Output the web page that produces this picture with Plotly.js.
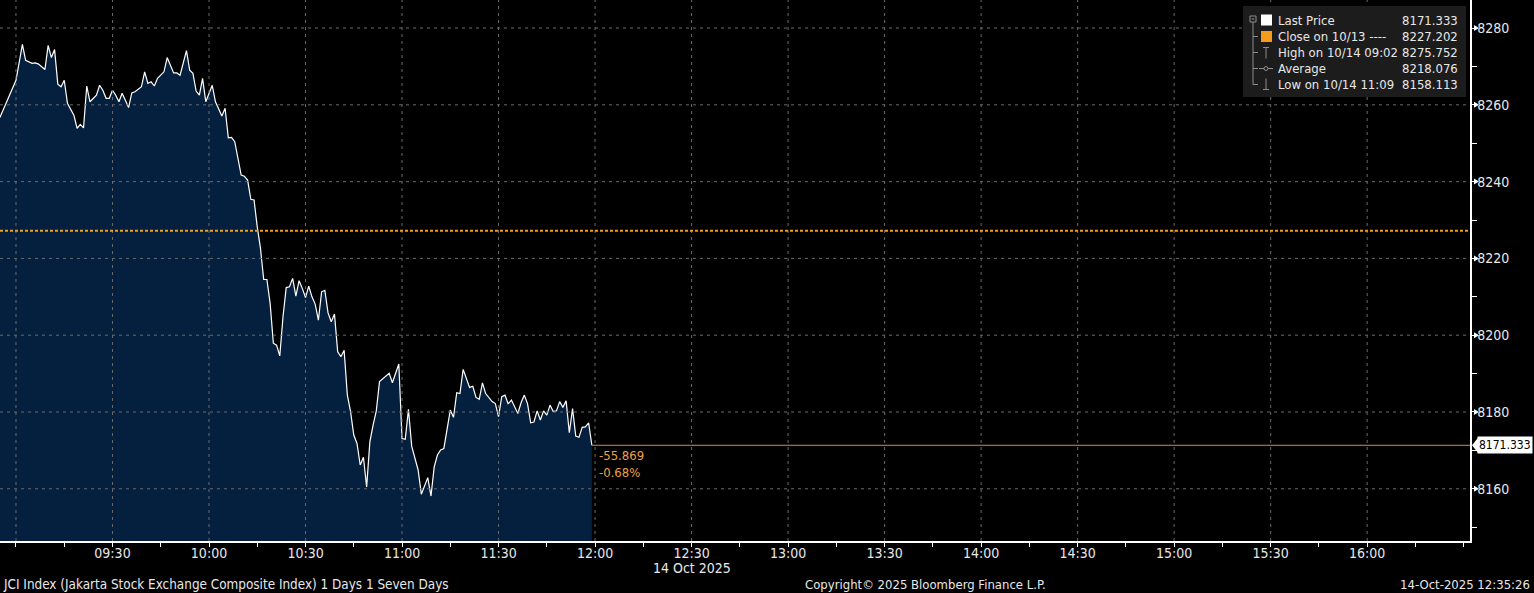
<!DOCTYPE html>
<html><head><meta charset="utf-8">
<script src="https://cdn.plot.ly/plotly-3.0.1.min.js"></script>
<style>html,body{margin:0;padding:0;background:#000;overflow:hidden}</style>
</head><body><div id="chart" style="width:1534px;height:593px"></div>
<script>
const DATE = '2025-10-14';
const TIMES = ['08:55','09:00','09:02','09:03','09:05','09:06','09:07','09:09','09:10','09:11','09:12','09:13','09:14','09:15','09:16','09:18','09:19','09:20','09:21','09:22','09:23','09:25','09:26','09:27','09:28','09:29','09:30','09:31','09:32','09:33','09:34','09:35','09:36','09:37','09:39','09:40','09:41','09:42','09:43','09:44','09:46','09:47','09:49','09:50','09:51','09:53','09:54','09:55','09:56','09:57','09:58','09:59','10:01','10:02','10:04','10:05','10:06','10:07','10:08','10:10','10:11','10:12','10:13','10:14','10:15','10:16','10:17','10:18','10:19','10:20','10:21','10:22','10:23','10:24','10:25','10:26','10:27','10:28','10:29','10:30','10:31','10:32','10:33','10:34','10:35','10:36','10:37','10:38','10:39','10:40','10:41','10:42','10:43','10:44','10:45','10:46','10:47','10:48','10:49','10:50','10:51','10:52','10:53','10:55','10:56','10:57','10:59','11:00','11:01','11:02','11:03','11:05','11:06','11:08','11:09','11:10','11:11','11:12','11:13','11:15','11:16','11:17','11:18','11:19','11:21','11:22','11:23','11:24','11:25','11:26','11:28','11:29','11:30','11:31','11:32','11:33','11:34','11:36','11:37','11:38','11:39','11:40','11:41','11:42','11:43','11:44','11:45','11:46','11:47','11:48','11:49','11:50','11:51','11:52','11:53','11:54','11:55','11:56','11:57','11:58','11:59'];
const PRICES = [8256.7,8266.4,8275.752,8271.6,8270.8,8270.9,8270.6,8269.2,8275.5,8272.3,8274.4,8265.4,8264.7,8266.4,8260.4,8257.3,8253.9,8254.9,8254.0,8264.9,8260.8,8262.5,8265.1,8263.8,8261.7,8261.7,8263.8,8262.5,8260.8,8263.0,8261.2,8259.3,8263.1,8263.4,8264.7,8268.6,8265.6,8266.0,8264.9,8266.9,8268.6,8272.3,8268.3,8268.3,8267.7,8274.1,8269.0,8268.2,8263.6,8262.5,8266.9,8260.8,8265.1,8260.8,8257.1,8259.1,8251.4,8251.5,8250.4,8241.7,8241.4,8240.4,8235.4,8235.2,8228.2,8222.6,8214.5,8214.5,8208.3,8197.9,8197.4,8194.6,8204.8,8212.4,8212.6,8214.8,8210.2,8214.2,8212.2,8209.8,8212.8,8210.0,8208.1,8203.9,8211.3,8211.7,8205.8,8203.5,8205.5,8195.7,8194.4,8196.1,8184.4,8180.1,8174.0,8171.8,8166.2,8168.2,8160.5,8172.2,8176.6,8180.3,8187.9,8189.3,8190.1,8187.6,8192.5,8173.1,8172.9,8180.7,8171.1,8164.9,8158.6,8162.9,8158.113,8165.7,8168.8,8170.1,8170.5,8180.5,8178.6,8185.0,8184.8,8191.1,8186.4,8186.7,8183.8,8183.3,8187.6,8184.8,8182.7,8182.2,8178.8,8184.0,8184.4,8182.1,8183.1,8179.6,8182.4,8184.4,8182.2,8177.2,8177.4,8180.3,8177.9,8180.3,8179.2,8181.8,8180.1,8180.3,8182.7,8181.2,8182.9,8174.6,8180.9,8173.7,8173.4,8176.0,8176.1,8177.2,8171.333];
const PREV_CLOSE = 8227.202;
const X_TICK_VALUES = ['09:00','09:30','10:00','10:30','11:00','11:30','12:00','12:30','13:00','13:30','14:00','14:30','15:00','15:30','16:00'];
const X_TICK_LABELS = ['','09:30','10:00','10:30','11:00','11:30','12:00','12:30','13:00','13:30','14:00','14:30','15:00','15:30','16:00'];
const DATE_LABEL = {at: '12:30', text: '14 Oct 2025'};
const Y_TICKS = [8160,8180,8200,8220,8240,8260,8280];
const LEGEND_LABELS = ['Last Price','Close on 10/13 ----','High on 10/14 09:02','Average','Low on 10/14 11:09'];
const LEGEND_VALUES = ['8171.333','8227.202','8275.752','8218.076','8158.113'];
const FOOTER_LEFT = 'JCI Index (Jakarta Stock Exchange Composite Index) 1 Days 1 Seven Days';
const FOOTER_MID = 'Copyright\u00a9 2025 Bloomberg Finance L.P.';
const FOOTER_RIGHT = '14-Oct-2025 12:35:26';

// ---- layout helpers ----
const W = 1534, H = 593, ML = 0, MR = 64, MT = 0, MB = 52;
const PW = W - ML - MR, PH = H - MT - MB;
const px = x => (x - ML) / PW;
const py = y => 1 - (y - MT) / PH;
const FONT = 'DejaVu Sans Condensed, DejaVu Sans, sans-serif';
const TXT = '#e8e8e8';
const GRID = '#6a6a6a';
const ORANGE = '#f59c1a';

const xs = TIMES.map(t => DATE + ' ' + t);
const X_RANGE = [DATE + ' 08:55:02', DATE + ' 16:31:58'];
const Y_RANGE = [8146.4, 8287.3];
const last = PRICES[PRICES.length - 1];
const lastX = xs[xs.length - 1];
const chg = last - PREV_CLOSE;
const chgPct = chg / PREV_CLOSE * 100;

const trace = {
  x: xs, y: PRICES, type: 'scatter', mode: 'lines',
  fill: 'tozeroy', fillcolor: '#04203e',
  line: {color: '#ffffff', width: 1.2},
  hoverinfo: 'skip', showlegend: false
};

const shapes = [];
X_TICK_VALUES.forEach(t => shapes.push({type: 'line', xref: 'x', yref: 'paper', x0: DATE + ' ' + t, x1: DATE + ' ' + t, y0: 0, y1: 1, line: {color: GRID, width: 1, dash: '3px,4px'}, layer: 'above'}));
Y_TICKS.forEach(v => shapes.push({type: 'line', xref: 'paper', yref: 'y', x0: 0, x1: 1, y0: v, y1: v, line: {color: GRID, width: 1, dash: '3px,4px'}, layer: 'above'}));
shapes.push({type: 'line', xref: 'paper', yref: 'y', x0: 0, x1: 1, y0: PREV_CLOSE, y1: PREV_CLOSE, line: {color: ORANGE, width: 2, dash: '3px,2px'}, layer: 'above'});
shapes.push({type: 'line', xref: 'x', yref: 'y', x0: lastX, x1: X_RANGE[1], y0: last, y1: last, line: {color: '#d98a4a', width: 1}, layer: 'above'});
Y_TICKS.forEach(v => shapes.push({type: 'path', xref: 'paper', yref: 'y', xsizemode: 'pixel', ysizemode: 'pixel', xanchor: 1, yanchor: v, path: 'M 4,-3 L 9,0 L 4,3 Z', fillcolor: '#ffffff', line: {width: 0}, layer: 'above'}));
shapes.push({type: 'path', xref: 'paper', yref: 'y', xsizemode: 'pixel', ysizemode: 'pixel', xanchor: 1, yanchor: last, path: 'M 2,0 L 8,-7.5 L 8,7.5 Z', fillcolor: '#ffffff', line: {width: 0}, layer: 'above'});
shapes.push({type: 'rect', xref: 'paper', yref: 'paper', x0: px(1243), x1: px(1466), y0: py(97), y1: py(6), fillcolor: '#1c1c1c', line: {width: 0}, layer: 'above'});
const rowY = [20, 36.5, 52.5, 68.5, 84.5];
const TREE = '#8c8c8c';
shapes.push({type: 'rect', xref: 'paper', yref: 'paper', x0: px(1250), x1: px(1256), y0: py(22), y1: py(16), line: {color: TREE, width: 1}, layer: 'above'});
shapes.push({type: 'line', xref: 'paper', yref: 'paper', x0: px(1251.5), x1: px(1254.5), y0: py(19), y1: py(19), line: {color: TREE, width: 1}, layer: 'above'});
shapes.push({type: 'line', xref: 'paper', yref: 'paper', x0: px(1253), x1: px(1253), y0: py(22), y1: py(rowY[4]), line: {color: TREE, width: 1}, layer: 'above'});
rowY.slice(1).forEach(r => shapes.push({type: 'line', xref: 'paper', yref: 'paper', x0: px(1253), x1: px(1258), y0: py(r), y1: py(r), line: {color: TREE, width: 1}, layer: 'above'}));
shapes.push({type: 'rect', xref: 'paper', yref: 'paper', x0: px(1261), x1: px(1272), y0: py(rowY[0] + 5.5), y1: py(rowY[0] - 5.5), fillcolor: '#ffffff', line: {width: 0}, layer: 'above'});
shapes.push({type: 'rect', xref: 'paper', yref: 'paper', x0: px(1261), x1: px(1272), y0: py(rowY[1] + 5.5), y1: py(rowY[1] - 5.5), fillcolor: ORANGE, line: {width: 0}, layer: 'above'});
shapes.push({type: 'line', xref: 'paper', yref: 'paper', x0: px(1263), x1: px(1269), y0: py(rowY[2] - 5), y1: py(rowY[2] - 5), line: {color: TREE, width: 1}, layer: 'above'});
shapes.push({type: 'line', xref: 'paper', yref: 'paper', x0: px(1266), x1: px(1266), y0: py(rowY[2] - 5), y1: py(rowY[2] + 6), line: {color: TREE, width: 1}, layer: 'above'});
shapes.push({type: 'line', xref: 'paper', yref: 'paper', x0: px(1259), x1: px(1273), y0: py(rowY[3]), y1: py(rowY[3]), line: {color: TREE, width: 1}, layer: 'above'});
shapes.push({type: 'circle', xref: 'paper', yref: 'paper', x0: px(1264), x1: px(1268), y0: py(rowY[3] + 2), y1: py(rowY[3] - 2), line: {color: TREE, width: 1}, fillcolor: '#1c1c1c', layer: 'above'});
shapes.push({type: 'line', xref: 'paper', yref: 'paper', x0: px(1263), x1: px(1269), y0: py(rowY[4] + 5), y1: py(rowY[4] + 5), line: {color: TREE, width: 1}, layer: 'above'});
shapes.push({type: 'line', xref: 'paper', yref: 'paper', x0: px(1266), x1: px(1266), y0: py(rowY[4] - 6), y1: py(rowY[4] + 5), line: {color: TREE, width: 1}, layer: 'above'});

const annotations = [];
LEGEND_LABELS.forEach((t, i) => {
  annotations.push({xref: 'paper', yref: 'paper', x: px(1276), y: py(rowY[i]), xanchor: 'left', yanchor: 'middle', text: t, showarrow: false, font: {family: FONT, size: 13, color: TXT}});
  annotations.push({xref: 'paper', yref: 'paper', x: px(1460), y: py(rowY[i]), xanchor: 'right', yanchor: 'middle', text: LEGEND_VALUES[i], showarrow: false, font: {family: FONT, size: 13, color: TXT}});
});
annotations.push({xref: 'x', yref: 'y', x: lastX, y: last, xanchor: 'left', yanchor: 'top', xshift: 5, yshift: -1, align: 'left', showarrow: false,
  text: chg.toFixed(3) + '<br>' + chgPct.toFixed(2) + '%', font: {family: FONT, size: 13, color: '#f0a040'}});
annotations.push({xref: 'paper', yref: 'y', x: 1, y: last, xanchor: 'left', yanchor: 'middle', xshift: 7, showarrow: false, text: last.toFixed(3),
  bgcolor: '#ffffff', borderpad: 1, font: {family: FONT, size: 12, color: '#000000'}});
annotations.push({xref: 'x', yref: 'paper', x: DATE + ' ' + DATE_LABEL.at, y: 0, xanchor: 'center', yanchor: 'middle', yshift: -27, showarrow: false, text: DATE_LABEL.text, font: {family: FONT, size: 14, color: TXT}});
annotations.push({xref: 'paper', yref: 'paper', x: 0, y: 0, xanchor: 'left', yanchor: 'middle', xshift: 1, yshift: -43, showarrow: false, text: FOOTER_LEFT, font: {family: FONT, size: 13.4, color: TXT}});
annotations.push({xref: 'paper', yref: 'paper', x: px(925), y: 0, xanchor: 'center', yanchor: 'middle', yshift: -43, showarrow: false, text: FOOTER_MID, font: {family: FONT, size: 13, color: TXT}});
annotations.push({xref: 'paper', yref: 'paper', x: px(1532), y: 0, xanchor: 'right', yanchor: 'middle', yshift: -43, showarrow: false, text: FOOTER_RIGHT, font: {family: FONT, size: 13, color: TXT}});

const layout = {
  width: W, height: H,
  margin: {l: ML, r: MR, t: MT, b: MB, pad: 0},
  paper_bgcolor: '#000000', plot_bgcolor: '#000000',
  showlegend: false,
  xaxis: {
    type: 'date', range: X_RANGE, fixedrange: true,
    tickmode: 'array', tickvals: X_TICK_VALUES.map(t => DATE + ' ' + t), ticktext: X_TICK_LABELS,
    showgrid: false, zeroline: false,
    showline: true, linecolor: '#ffffff', linewidth: 1.5,
    ticks: 'outside', ticklen: 4, tickcolor: '#ffffff', tickwidth: 1,
    ticklabelstandoff: -5,
    minor: {dtick: 900000, tick0: DATE + ' 09:00', ticks: 'outside', ticklen: 4, tickcolor: '#ffffff', showgrid: false},
    tickfont: {family: FONT, size: 14, color: TXT}
  },
  yaxis: {
    side: 'right', range: Y_RANGE, fixedrange: true,
    tickmode: 'array', tickvals: Y_TICKS, ticktext: Y_TICKS.map(String),
    showgrid: false, zeroline: false,
    showline: true, linecolor: '#ffffff', linewidth: 1.5,
    ticks: 'outside', ticklen: 5, tickcolor: '#ffffff', tickwidth: 1,
    ticklabelstandoff: -2,
    minor: {dtick: 10, tick0: 8150, ticks: 'outside', ticklen: 5, tickcolor: '#ffffff', showgrid: false},
    tickfont: {family: FONT, size: 14, color: TXT}
  },
  shapes: shapes,
  annotations: annotations
};
Plotly.newPlot('chart', [trace], layout, {displayModeBar: false, staticPlot: true});
</script>
</body></html>
